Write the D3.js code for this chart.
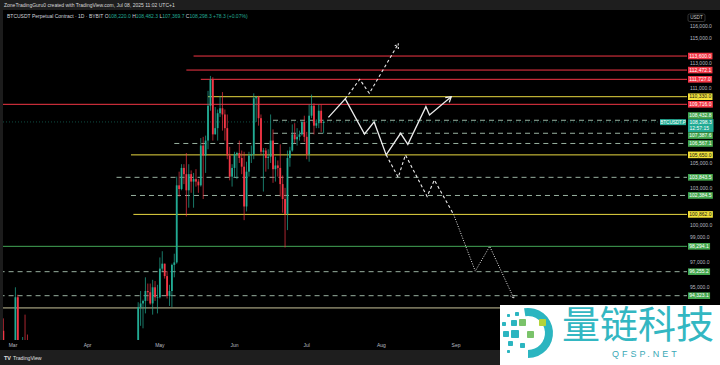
<!DOCTYPE html>
<html>
<head>
<meta charset="utf-8">
<script src="https://cdn.jsdelivr.net/npm/d3@7"></script>
<style>
  html, body { margin: 0; padding: 0; background: #000; }
  svg { display: block; font-family: "Liberation Sans", Arial, sans-serif; }
</style>
</head>
<body>
<svg id="chart" width="720" height="365"></svg>
<script>
// BTCUSDT.P daily candles from 2025-02-25, prices in thousands of USDT
const firstDay = "2025-02-25";
const opens = [
  91.5, 88.7, 84.2, 84.7,
  84.3, 86.0, 94.2, 86.1, 87.2, 90.6, 89.9, 86.8, 86.2, 80.7, 78.5, 82.9, 83.7, 81.1, 84.0, 84.3,
  82.6, 84.0, 82.7, 86.8, 84.2, 84.0, 83.8, 86.0, 87.5, 87.4, 86.9, 87.2, 84.3, 82.6, 82.3,
  82.5, 85.1, 82.5, 83.1, 83.8, 83.5, 78.3, 79.2, 76.3, 82.6, 79.6, 83.4, 85.3, 83.7, 84.5,
  83.6, 84.0, 84.9, 84.5, 85.0, 85.1, 87.5, 93.4, 93.7, 93.9, 94.7, 94.6, 93.7, 95.0, 94.2,
  94.2, 96.5, 96.9, 95.9, 94.3, 94.7, 96.8, 97.0, 103.2, 102.9, 104.6, 104.1, 102.8, 104.1, 103.5, 103.7,
  103.5, 103.2, 106.4, 105.6, 106.8, 109.6, 111.7, 107.3, 107.8, 109.0, 109.4, 108.9, 107.8, 105.6, 103.9,
  104.6, 105.7, 105.8, 105.4, 104.7, 101.5, 104.3, 105.6, 105.7, 110.2, 110.3, 108.6, 105.9, 106.0, 105.4,
  105.5, 106.8, 104.5, 104.8, 104.6, 103.3, 102.1, 100.9, 105.4, 106.0, 107.3, 106.9, 107.1, 107.3, 108.3,
  107.1, 105.7, 108.8, 109.6, 108.0, 108.2, 109.2, 108.22
];
const highs = [
  92.5, 89.3, 87.1, 85.1,
  86.5, 95.0, 94.4, 88.9, 91.0, 92.8, 91.2, 86.9, 86.5, 84.0, 83.6, 84.3, 84.2, 85.3, 84.7, 85.0,
  84.7, 84.0, 87.4, 87.4, 85.0, 84.5, 86.1, 88.7, 88.5, 88.2, 87.8, 87.5, 84.6, 83.5, 83.9,
  85.5, 88.5, 83.9, 84.7, 84.2, 83.8, 81.2, 80.8, 83.5, 82.7, 84.3, 85.9, 86.1, 85.8, 86.5,
  85.5, 85.5, 85.1, 85.6, 85.3, 88.5, 93.8, 94.7, 94.0, 95.8, 95.3, 95.3, 95.6, 95.5, 95.2,
  97.4, 97.9, 96.9, 96.3, 95.2, 96.9, 97.7, 103.9, 104.3, 104.9, 104.9, 105.8, 104.9, 104.4, 104.2, 104.5,
  103.7, 107.0, 107.1, 107.2, 110.8, 112.0, 111.9, 109.5, 109.3, 110.4, 110.7, 109.3, 108.9, 106.3, 104.9,
  105.9, 105.9, 106.8, 106.0, 105.9, 105.1, 105.9, 106.4, 110.6, 110.4, 110.4, 108.9, 106.2, 106.2, 106.1,
  108.9, 107.7, 105.5, 105.2, 106.5, 104.0, 103.0, 106.0, 106.3, 108.1, 108.2, 107.8, 107.6, 108.4, 108.8,
  107.5, 109.7, 110.5, 109.8, 108.5, 109.7, 109.7, 108.4823
];
const lows = [
  86.0, 82.3, 82.7, 78.2,
  83.8, 85.0, 85.1, 81.4, 86.3, 87.8, 84.7, 85.3, 80.0, 77.5, 76.6, 80.6, 79.9, 80.8, 83.6, 82.0,
  82.5, 81.1, 82.3, 83.7, 83.2, 83.6, 83.6, 85.5, 86.3, 85.8, 85.8, 83.6, 81.6, 81.5, 81.3,
  82.4, 82.3, 81.2, 81.6, 82.4, 77.2, 74.5, 76.2, 74.6, 78.5, 78.9, 82.0, 83.0, 83.7, 83.6,
  83.1, 83.9, 84.3, 84.4, 83.9, 85.1, 87.0, 91.9, 91.7, 92.9, 93.9, 93.6, 92.8, 93.9, 92.9,
  94.1, 96.3, 95.7, 94.1, 93.5, 93.4, 95.8, 96.9, 102.3, 102.8, 103.3, 100.7, 101.4, 102.6, 101.4, 103.1,
  102.6, 103.1, 102.1, 104.2, 106.1, 109.2, 106.8, 107.3, 106.8, 108.7, 107.6, 106.8, 105.3, 103.6, 103.1,
  103.8, 103.7, 105.0, 104.1, 100.4, 101.1, 103.9, 105.0, 105.3, 108.3, 108.0, 105.7, 102.7, 104.3, 104.5,
  105.0, 103.4, 103.5, 103.9, 102.3, 101.0, 98.2, 99.6, 104.7, 105.9, 106.6, 106.4, 106.8, 107.2, 106.7,
  105.3, 105.1, 108.6, 107.3, 107.8, 107.8, 107.5, 107.3697
];
const closes = [
  88.7, 84.2, 84.7, 84.3,
  86.0, 94.2, 86.1, 87.2, 90.6, 89.9, 86.8, 86.2, 80.7, 78.5, 82.9, 83.7, 81.1, 84.0, 84.3, 82.6,
  84.0, 82.7, 86.8, 84.2, 84.0, 83.8, 86.0, 87.5, 87.4, 86.9, 87.2, 84.3, 82.6, 82.3, 82.5,
  85.1, 82.5, 83.1, 83.8, 83.5, 78.3, 79.2, 76.3, 82.6, 79.6, 83.4, 85.3, 83.7, 84.5, 83.6,
  84.0, 84.9, 84.5, 85.0, 85.1, 87.5, 93.4, 93.7, 93.9, 94.7, 94.6, 93.7, 95.0, 94.2, 94.2,
  96.5, 96.9, 95.9, 94.3, 94.7, 96.8, 97.0, 103.2, 102.9, 104.6, 104.1, 102.8, 104.1, 103.5, 103.7, 103.5,
  103.2, 106.4, 105.6, 106.8, 109.6, 111.7, 107.3, 107.8, 109.0, 109.4, 108.9, 107.8, 105.6, 103.9, 104.6,
  105.7, 105.8, 105.4, 104.7, 101.5, 104.3, 105.6, 105.7, 110.2, 110.3, 108.6, 105.9, 106.0, 105.4, 105.5,
  106.8, 104.5, 104.8, 104.6, 103.3, 102.1, 100.9, 105.4, 106.0, 107.3, 106.9, 107.1, 107.3, 108.3, 107.1,
  105.7, 108.8, 109.6, 108.0, 108.2, 109.2, 108.22, 108.2983
];

// horizontal levels drawn on the chart
const levelPrices = [113600.0, 112472.1, 111727.0, 110330.0, 109716.0, 108432.8, 107387.6, 106567.1,
                     105650.0, 103843.5, 102384.5, 100862.0, 98294.1, 96255.2, 94323.1, 93340.0];
const levelKinds  = ["red", "red", "red", "yellow", "red", "dash", "dash", "dash",
                     "yellow", "dash", "dash", "yellow", "green", "dash", "dash", "khaki"];
const levelFrom   = ["2025-05-15", "2025-05-12", "2025-05-18", "2025-05-21", "2025-02-01", "2025-06-17", "2025-06-17", "2025-05-07",
                     "2025-04-19", "2025-04-13", "2025-04-19", "2025-04-20", "2025-02-01", "2025-02-01", "2025-02-01", "2025-02-01"];

// projected scenarios [date, price]
const solidPath  = [["2025-07-10", 108670], ["2025-07-17", 110150], ["2025-07-25", 107330], ["2025-07-29", 108300],
                    ["2025-08-03", 105650], ["2025-08-09", 107387], ["2025-08-12", 106500], ["2025-08-19T12:00Z", 109530],
                    ["2025-08-21", 108860], ["2025-08-30", 110330]];
const upPath     = [["2025-07-17", 110150], ["2025-07-23", 111727], ["2025-07-27", 110600], ["2025-08-08", 114570]];
const downPath   = [["2025-08-03", 105650], ["2025-08-08", 103843], ["2025-08-11", 105650], ["2025-08-20", 102300],
                    ["2025-08-23", 103630], ["2025-08-31", 100862]];
const dottedPath = [["2025-08-31", 100862], ["2025-09-09", 96300], ["2025-09-15", 98294], ["2025-09-25", 94120]];

const lastPrice = 108298.3;
const countdown = "12:57:15";
const priceTicks = d3.range(94000, 116001, 1000);
const monthTicks = ["2025-03-01", "2025-04-01", "2025-05-01", "2025-06-01", "2025-07-01", "2025-08-01", "2025-09-01"];

const W = 720, H = 365;
const plotRight = 687, plotTop = 10, plotBottom = 340;

const svg = d3.select("#chart");
const x = d3.scaleUtc().domain([new Date("2025-03-01"), new Date("2025-09-01")]).range([13, 456]);
const y = d3.scaleLinear().domain([116000, 94323.1]).range([26.2, 295.7]);
const fmt = d3.format(",.1f");

const colors = {
  red: "#f23645", yellow: "#e8d841", dash: "#98b09f", green: "#43a556", khaki: "#c9c49a",
  up: "#22ab94", down: "#f23645"
};
const labelBg = { red: "#f23645", yellow: "#f2e13c", dash: "#45a84f", green: "#45a84f" };

svg.append("rect").attr("width", W).attr("height", H).attr("fill", "#000");

svg.append("clipPath").attr("id", "plot")
  .append("rect").attr("x", 0).attr("y", plotTop).attr("width", plotRight).attr("height", plotBottom - plotTop);

const plot = svg.append("g").attr("clip-path", "url(#plot)");

// level lines
levelPrices.forEach((p, i) => {
  const k = levelKinds[i];
  plot.append("line")
    .attr("x1", x(new Date(levelFrom[i]))).attr("x2", plotRight)
    .attr("y1", y(p)).attr("y2", y(p))
    .attr("stroke", colors[k]).attr("stroke-width", 1)
    .attr("stroke-dasharray", k === "dash" ? "5,4" : null);
});

// last price line
plot.append("line")
  .attr("x1", 0).attr("x2", plotRight).attr("y1", y(lastPrice)).attr("y2", y(lastPrice))
  .attr("stroke", colors.up).attr("stroke-opacity", 0.45).attr("stroke-dasharray", "1,2");

// candles
const candles = opens.map((o, i) => ({
  date: d3.utcDay.offset(new Date(firstDay), i),
  o: o * 1000, h: highs[i] * 1000, l: lows[i] * 1000, c: closes[i] * 1000
}));
const cg = plot.append("g");
cg.selectAll("line").data(candles).join("line")
  .attr("x1", d => x(d.date)).attr("x2", d => x(d.date))
  .attr("y1", d => y(d.h)).attr("y2", d => y(d.l))
  .attr("stroke", d => d.c >= d.o ? colors.up : colors.down).attr("stroke-width", 0.7);
cg.selectAll("rect").data(candles).join("rect")
  .attr("x", d => x(d.date) - 0.9).attr("width", 1.8)
  .attr("y", d => y(Math.max(d.o, d.c)))
  .attr("height", d => Math.max(0.6, Math.abs(y(d.o) - y(d.c))))
  .attr("fill", d => d.c >= d.o ? colors.up : colors.down);

// scenario paths
const toXY = pts => pts.map(([d, p]) => [x(new Date(d)), y(p)]);
const line = d3.line();
function drawPath(pts, dash, width) {
  const xy = toXY(pts);
  plot.append("path").attr("d", line(xy)).attr("fill", "none")
    .attr("stroke", "#ececec").attr("stroke-width", width)
    .attr("stroke-dasharray", dash).attr("stroke-linejoin", "miter");
  return xy;
}
function arrowHead(xy, size, dash, width) {
  const [x1, y1] = xy[xy.length - 2], [x2, y2] = xy[xy.length - 1];
  const a = Math.atan2(y2 - y1, x2 - x1), s = 0.55;
  const p = [[x2 - size * Math.cos(a - s), y2 - size * Math.sin(a - s)], [x2, y2],
             [x2 - size * Math.cos(a + s), y2 - size * Math.sin(a + s)]];
  plot.append("path").attr("d", line(p)).attr("fill", "none")
    .attr("stroke", "#ececec").attr("stroke-width", width).attr("stroke-dasharray", dash);
}
const s1 = drawPath(solidPath, null, 1.3);
arrowHead(s1, 6, null, 1.3);
const s2 = drawPath(upPath, "3,2.5", 1.1);
arrowHead(s2, 5, "2,1.5", 1.1);
drawPath(downPath, "3,2.5", 1.1);
const s4 = drawPath(dottedPath, "1,1.5", 1);
arrowHead(s4, 4, "1,1", 1);

// left frame strip
svg.append("rect").attr("x", 0).attr("y", plotTop).attr("width", 3).attr("height", plotBottom - plotTop).attr("fill", "#1c1c1c");

// price-axis label positions (current price block first, then levels pushed clear of it)
const cy = y(lastPrice);
const curTop = cy - 2.8, curBot = cy + 10;
const lh = 6.6;
const levelLabels = [];
levelPrices.forEach((p, i) => {
  const k = levelKinds[i];
  if (k === "khaki") return;
  let ly = y(p);
  if (ly + lh / 2 > curTop && ly - lh / 2 < curBot) {
    ly = ly < cy ? curTop - lh / 2 - 0.3 : curBot + lh / 2 + 0.3;
  }
  levelLabels.push({ p, k, ly });
});

// price axis ticks, hidden where a coloured label sits
const visibleTicks = priceTicks.filter(t => {
  const ty = y(t);
  if (ty > curTop - 3 && ty < curBot + 3) return false;
  return levelLabels.every(l => Math.abs(l.ly - ty) >= 6.2);
});
svg.append("g").attr("font-size", 5).attr("fill", "#b8bbc2")
  .selectAll("text").data(visibleTicks).join("text")
  .attr("x", 690).attr("y", d => y(d)).attr("dy", "0.35em").text(d => fmt(d));

// USDT box
svg.append("rect").attr("x", 688).attr("y", 14).attr("width", 17).attr("height", 7.5).attr("rx", 1.5)
  .attr("fill", "#000").attr("stroke", "#555").attr("stroke-width", 0.6);
svg.append("text").attr("x", 696.5).attr("y", 17.8).attr("dy", "0.35em").attr("text-anchor", "middle")
  .attr("font-size", 4.6).attr("fill", "#c8c8c8").text("USDT");

// current price label block
svg.append("rect").attr("x", 688).attr("y", curTop).attr("width", 25.5).attr("height", curBot - curTop).attr("fill", colors.up);
svg.append("text").attr("x", 689.5).attr("y", cy + 0.4).attr("dy", "0.35em").attr("font-size", 5).attr("fill", "#fff").text(fmt(lastPrice));
svg.append("text").attr("x", 689.5).attr("y", cy + 6.6).attr("dy", "0.35em").attr("font-size", 5).attr("fill", "#fff").text(countdown);
svg.append("rect").attr("x", 660).attr("y", cy - 2.8).attr("width", 26).attr("height", 6).attr("fill", colors.up);
svg.append("text").attr("x", 673).attr("y", cy + 0.2).attr("dy", "0.35em").attr("text-anchor", "middle")
  .attr("font-size", 4.6).attr("fill", "#fff").text("BTCUSDT.P");

// level labels
levelLabels.forEach(({ p, k, ly }) => {
  const t = svg.append("text").attr("x", 689.3).attr("y", ly).attr("dy", "0.35em")
    .attr("font-size", 5).attr("fill", k === "yellow" ? "#111" : "#fff").text(fmt(p));
  const w = t.node().getComputedTextLength();
  svg.insert("rect", () => t.node())
    .attr("x", 688).attr("y", ly - lh / 2).attr("width", w + 2.6).attr("height", lh)
    .attr("fill", labelBg[k]);
});

// time axis
svg.append("g").attr("font-size", 5).attr("fill", "#b8bbc2")
  .selectAll("text").data(monthTicks).join("text")
  .attr("x", d => x(new Date(d))).attr("y", 345.5).attr("dy", "0.35em").attr("text-anchor", "middle")
  .text(d => d3.utcFormat("%b")(new Date(d)));

// header
svg.append("rect").attr("width", W).attr("height", 10).attr("fill", "#1e1e1e");
svg.append("text").attr("x", 4).attr("y", 5.5).attr("dy", "0.35em").attr("font-size", 5).attr("fill", "#d8d8d8")
  .text("ZoneTradingGuru0 created with TradingView.com, Jul 08, 2025 11:02 UTC+1");
const title = svg.append("text").attr("x", 7).attr("y", 16.7).attr("dy", "0.35em").attr("font-size", 5).attr("fill", "#d1d4dc");
title.append("tspan").text("BTCUSDT Perpetual Contract · 1D · BYBIT  ");
const ohlc = [["O", opens], ["H", highs], ["L", lows], ["C", closes]];
ohlc.forEach(([k, arr]) => {
  title.append("tspan").text(" " + k);
  title.append("tspan").attr("fill", colors.up).text(fmt(arr[arr.length - 1] * 1000));
});
const chg = closes[closes.length - 1] * 1000 - opens[opens.length - 1] * 1000;
title.append("tspan").attr("fill", colors.up)
  .text(" +" + chg.toFixed(1) + " (+" + (chg / (opens[opens.length - 1] * 1000) * 100).toFixed(2) + "%)");

// footer
svg.append("rect").attr("y", 350).attr("width", W).attr("height", 15).attr("fill", "#1e1e1e");
svg.append("text").attr("x", 4).attr("y", 357.7).attr("dy", "0.35em").attr("font-size", 5.5).attr("font-weight", "bold")
  .attr("fill", "#e0e0e0").text("TV");
svg.append("text").attr("x", 13).attr("y", 357.7).attr("dy", "0.35em").attr("font-size", 5.2)
  .attr("fill", "#e0e0e0").text("TradingView");

// watermark
const wm = svg.append("g");
wm.append("rect").attr("x", 500).attr("y", 305).attr("width", 220).attr("height", 60).attr("fill", "#fff");
wm.append("path")
  .attr("transform", "translate(528,333)")
  .attr("d", d3.arc()({ innerRadius: 17, outerRadius: 25, startAngle: -0.05 * Math.PI, endAngle: 1.0 * Math.PI }))
  .attr("fill", "#2bb5c0");
const squares = [
  [507, 314, 3, "#2bb5c0"], [515, 312, 4, "#2bb5c0"], [502, 322, 4, "#2bb5c0"], [511, 320, 6, "#2bb5c0"],
  [519, 319, 7, "#7ac36a"], [539, 319, 7, "#b3d33a"], [503, 331, 6, "#2bb5c0"], [511, 330, 8, "#2bb5c0"],
  [527, 331, 7, "#7ac36a"], [508, 341, 5, "#2bb5c0"], [520, 343, 5, "#2bb5c0"], [507, 350, 3, "#2bb5c0"]
];
wm.selectAll("rect.sq").data(squares).join("rect").attr("class", "sq")
  .attr("x", d => d[0]).attr("y", d => d[1]).attr("width", d => d[2]).attr("height", d => d[2])
  .attr("rx", 0.8).attr("fill", d => d[3]);
wm.append("text").attr("x", 562).attr("y", 338).attr("font-size", 38)
  .attr("font-family", "'Noto Sans CJK SC', sans-serif").attr("fill", "#33b7c2").text("量链科技");
wm.append("text").attr("x", 612).attr("y", 356.5).attr("font-size", 9).attr("letter-spacing", 3)
  .attr("fill", "#3aa9b6").text("QFSP.NET");
</script>
</body>
</html>
